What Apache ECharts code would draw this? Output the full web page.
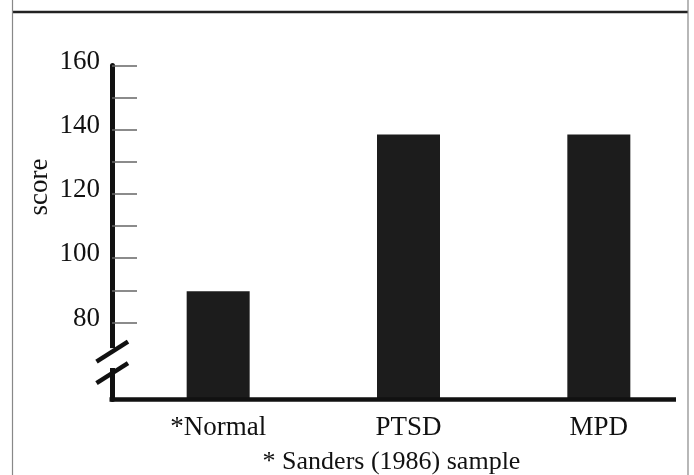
<!DOCTYPE html>
<html><head><meta charset="utf-8">
<script src="https://cdn.jsdelivr.net/npm/echarts@6/dist/echarts.min.js"></script>
<style>html,body{margin:0;padding:0;background:#fff}#c{width:694px;height:475px}</style>
</head><body><div id="c"></div>
<script>
const categories = ['*Normal', 'PTSD', 'MPD'];
const scores = [89.7, 138.5, 138.5];
const tickValues = [80, 90, 100, 110, 120, 130, 140, 150, 160];
const labelValues = [80, 100, 120, 140, 160];
const axisMin = 56, axisMax = 160;
const breakMarkValues = [64.2, 70.9];
const breakGap = [65.8, 72];
const yTitle = 'score';
const footnote = '* Sanders (1986) sample';

const FONT = "'Liberation Serif', 'Times New Roman', serif";
const chart = echarts.init(document.getElementById('c'), null, {renderer: 'canvas'});
const gridLeft = 123, axisX = 112;
chart.setOption({
  animation: false,
  backgroundColor: '#fff',
  grid: {left: gridLeft, right: -7, top: 65.5, bottom: 75.5},
  xAxis: {
    type: 'category', data: categories,
    axisLine: {show: false}, axisTick: {show: false},
    axisLabel: {fontFamily: FONT, fontSize: 27, color: '#111', margin: 15}
  },
  yAxis: {
    type: 'value', min: axisMin, max: axisMax, offset: gridLeft - axisX,
    splitLine: {show: false},
    axisLine: {show: true, lineStyle: {color: '#111', width: 5}},
    axisTick: {show: true, inside: true, length: 25, customValues: tickValues, lineStyle: {color: '#666', width: 1.5}},
    axisLabel: {customValues: labelValues, fontFamily: FONT, fontSize: 27, color: '#111', margin: 12, verticalAlign: 'bottom', lineHeight: 8}
  },
  series: [{type: 'bar', data: scores, barWidth: 63, itemStyle: {color: '#1c1c1c'}}]
});

const yPix = v => chart.convertToPixel({yAxisIndex: 0}, v);
const baseY = yPix(axisMin);
const g = [];
// frame
g.push({type: 'line', z: 100, shape: {x1: 12, y1: 12, x2: 688, y2: 12}, style: {stroke: '#222', lineWidth: 2.5}});
g.push({type: 'line', z: 100, shape: {x1: 12.5, y1: 0, x2: 12.5, y2: 475}, style: {stroke: '#888', lineWidth: 1.2}});
g.push({type: 'line', z: 100, shape: {x1: 688, y1: 0, x2: 688, y2: 475}, style: {stroke: '#888', lineWidth: 1.2}});
// x baseline
g.push({type: 'line', z: 100, shape: {x1: axisX - 2.5, y1: baseY, x2: 676, y2: baseY}, style: {stroke: '#111', lineWidth: 4.5}});
// axis break gap and marks
const gTop = yPix(breakGap[1]), gBot = yPix(breakGap[0]);
g.push({type: 'rect', z: 100, shape: {x: axisX - 4, y: gTop, width: 8, height: gBot - gTop}, style: {fill: '#fff'}});
breakMarkValues.forEach(v => {
  const cy = yPix(v);
  g.push({type: 'line', z: 101, shape: {x1: axisX - 15.5, y1: cy + 10, x2: axisX + 16, y2: cy - 10}, style: {stroke: '#111', lineWidth: 4.5}});
});
// y title
g.push({type: 'text', z: 100, x: 40, y: 187, rotation: Math.PI / 2,
  style: {text: yTitle, fontFamily: FONT, fontSize: 27, fill: '#111', align: 'center', verticalAlign: 'middle'}});
// footnote
g.push({type: 'text', z: 100, x: 391.5, y: 462,
  style: {text: footnote, fontFamily: FONT, fontSize: 26, fill: '#111', align: 'center', verticalAlign: 'middle'}});
chart.setOption({graphic: g});
</script>
</body></html>
